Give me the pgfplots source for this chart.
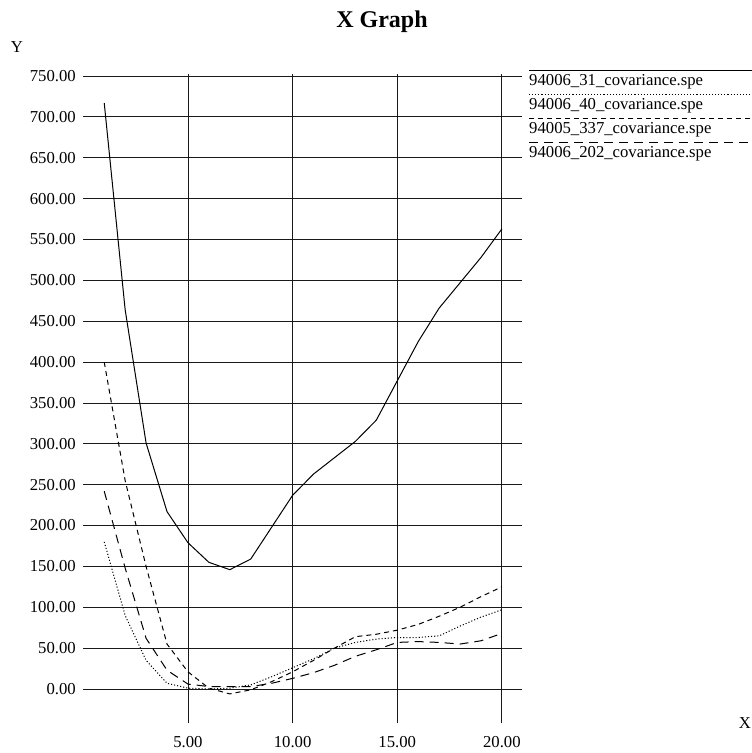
\documentclass[border=0pt]{standalone}
\usepackage{pgfplots}
\pgfplotsset{compat=1.18}
\usepackage{pgfplotstable}
\usepackage{fontspec}
\setmainfont{Liberation Serif}

% covariance spectra: x, 94006_31, 94006_40, 94005_337, 94006_202
\pgfplotstableread{
x   s31  s40  s337 s202
1   717  180  400  242
2   464   90  255  148
3   301   35  150   62
4   217    7   55   23
5   179    1   21    6
6   155    0    1    3
7   146    1   -6    3
8   159    5   -1    3
9   198   15    9    7
10  237   26   21   13
11  263   37   35   20
12  283   50   50   29
13  303   57   64   40
14  329   61   67   48
15  377   63   72   57
16  425   63   79   58
17  466   65   89   57
18  497   77  100   55
19  528   88  113   59
20  563   97  125   68
}\spectra

\tikzset{
  s31style/.style={black, line width=1pt},
  s40style/.style={black, line width=1pt, dash pattern=on 1.1pt off 2pt},
  s337style/.style={black, line width=1pt, dash pattern=on 5pt off 4pt},
  s202style/.style={black, line width=1pt, dash pattern=on 9pt off 6pt},
}

\begin{document}%
\fontsize{16.7}{20}\selectfont%
\begin{tikzpicture}
\path[use as bounding box] (0pt,0pt) rectangle (752pt,753pt);
\begin{axis}[
  at={(83.3pt,30pt)}, anchor=south west,
  scale only axis, width=438.7pt, height=649pt,
  xmin=0, xmax=20.96, ymin=-41.6, ymax=752.5,
  axis line style={draw=none},
  major tick length=0pt,
  xtick={5,10,15,20},
  ytick={0,50,...,750},
  grid=major,
  major grid style={black!90, line width=0.9pt},
  /pgf/number format/.cd, fixed, fixed zerofill, precision=2, 1000 sep={}, assume math mode=true,
  /pgfplots/.cd,
  ticklabel style={font=\fontsize{16.7}{20}\selectfont},
  yticklabel style={anchor=east, inner sep=0pt, xshift=-7.3pt},
  xticklabel style={anchor=center, inner sep=0pt, yshift=-19pt},
  clip=true,
]
\addplot[s31style]  table[x=x, y=s31]  {\spectra};
\addplot[s40style]  table[x=x, y=s40]  {\spectra};
\addplot[s337style] table[x=x, y=s337] {\spectra};
\addplot[s202style] table[x=x, y=s202] {\spectra};
\end{axis}

% title and axis names
\node[font=\fontsize{24}{28}\selectfont\bfseries] at (382pt,731pt) {X Graph};
\node at (17pt,706pt) {Y};
\node at (745pt,30pt) {X};

% legend: a line above each series name
\draw[s31style]  (529pt,682pt) -- (752pt,682pt);
\draw[s40style]  (529pt,658pt) -- (752pt,658pt);
\draw[s337style] (529pt,634pt) -- (752pt,634pt);
\draw[s202style] (529pt,610pt) -- (752pt,610pt);
\node[anchor=base west, inner sep=0pt] at (529pt,667pt) {94006\_31\_covariance.spe};
\node[anchor=base west, inner sep=0pt] at (529pt,643pt) {94006\_40\_covariance.spe};
\node[anchor=base west, inner sep=0pt] at (529pt,619pt) {94005\_337\_covariance.spe};
\node[anchor=base west, inner sep=0pt] at (529pt,595pt) {94006\_202\_covariance.spe};
\end{tikzpicture}%
\end{document}
